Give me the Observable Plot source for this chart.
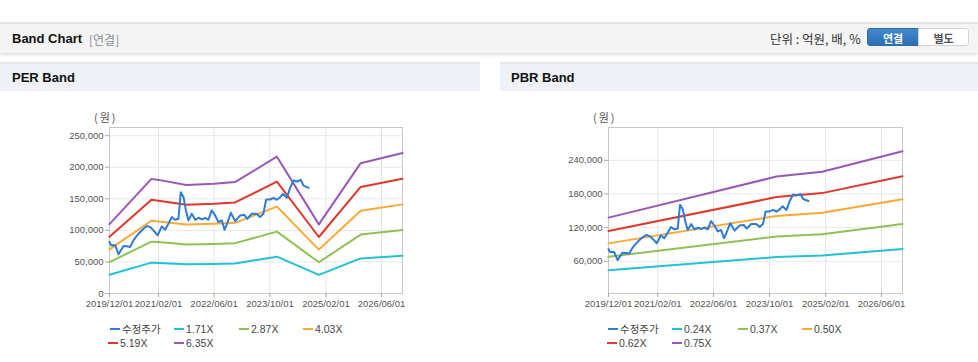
<!DOCTYPE html>
<html><head><meta charset="utf-8">
<script src="https://cdn.jsdelivr.net/npm/d3@7"></script>
<script src="https://cdn.jsdelivr.net/npm/@observablehq/plot@0.6"></script>
<style>
html,body{margin:0;padding:0;background:#fff;width:978px;height:362px;overflow:hidden;font-family:"Liberation Sans",Arial,"Noto Sans CJK KR",sans-serif;}
.abs{position:absolute;}
#topbar{left:0;top:22px;width:978px;height:29px;background:#f4f4f4;border-top:2px solid #e6e6e6;box-shadow:0 2px 3px rgba(0,0,0,0.13);}
.ttl{font-weight:bold;font-size:13px;color:#111;white-space:nowrap;}
.sub{font-size:12px;color:#8a8f99;font-family:"Noto Sans CJK KR",sans-serif;}
.unit{font-size:12.5px;color:#333;font-family:"Noto Sans CJK KR",sans-serif;white-space:nowrap;}
.btn{height:18px;line-height:18px;text-align:center;font-size:11px;font-weight:bold;font-family:"Noto Sans CJK KR",sans-serif;box-sizing:border-box;}
.phead{top:62px;height:29px;background:#eef2f7;border-top:2px solid #e2e6eb;box-sizing:border-box;}
.leg{font-size:10.5px;color:#444;white-space:nowrap;line-height:12px;}
.sw{height:2px;width:10px;}
.won{font-size:11px;color:#555;font-family:"Noto Sans CJK KR",sans-serif;letter-spacing:2px;}
</style></head>
<body>
<div id="root"></div>
<script>
// ---- data ----
const seriesNamesPER = ["수정주가","1.71X","2.87X","4.03X","5.19X","6.35X"];
const seriesNamesPBR = ["수정주가","0.24X","0.37X","0.50X","0.62X","0.75X"];
const seriesColors = ["#2f7bd6","#22c1d3","#8fc155","#fba933","#e0372b","#9b57b5"];
const xTickLabels = ["2019-12-01","2021-02-01","2022-06-01","2023-10-01","2025-02-01","2026-06-01"];
const perYTicks = [0,50000,100000,150000,200000,250000];
const pbrYTicks = [60000,120000,180000,240000];

const priceDates = ["2019-12-01","2019-12-15","2020-01-20","2020-02-18","2020-04-01","2020-05-01","2020-05-29","2020-06-27","2020-08-10","2020-09-23","2020-10-22","2020-11-20","2020-12-19","2021-01-24","2021-03-01","2021-03-30","2021-04-28","2021-05-27","2021-06-26","2021-07-25","2021-08-14","2021-09-07","2021-09-28","2021-10-20","2021-11-19","2021-12-18","2022-01-16","2022-02-15","2022-03-14","2022-04-12","2022-05-11","2022-06-10","2022-07-08","2022-08-07","2022-08-31","2022-09-20","2022-10-25","2022-12-02","2023-01-15","2023-02-19","2023-03-18","2023-04-25","2023-06-08","2023-07-07","2023-08-05","2023-08-29","2023-10-03","2023-11-02","2023-11-30","2023-12-30","2024-01-22","2024-02-26","2024-03-25","2024-04-24","2024-05-23","2024-06-27","2024-07-20","2024-09-03"];
const priceValues = [81600,76300,76300,62100,75300,74700,73700,84200,94700,102600,106800,105300,100000,92100,106300,101000,110500,121000,116800,118400,160500,152600,131600,115800,126300,116800,120000,117400,120000,116800,131600,123700,113200,115800,101000,109500,127900,114700,123700,124700,118400,126300,126300,121000,126300,148900,148900,151600,148400,152600,157900,151600,167400,178900,177400,180000,171000,167400];

const perBandDates = ["2019-12-01","2020-12-01","2021-02-01","2021-10-01","2022-06-01","2022-12-01","2023-12-01","2024-12-01","2025-12-01","2026-12-01"];
const per171 = [29600,48900,48500,46300,46900,47500,58400,29500,55600,59900];
const per287 = [49700,82100,81400,77700,78600,79800,98000,49500,93300,100600];
const per403 = [69800,115200,114200,109200,110400,112000,137600,69500,131100,141200];
const per519 = [89900,148400,147100,140600,142200,144300,177200,89500,168800,181900];
const per635 = [110000,181600,180000,172000,174000,176500,216800,109500,206500,222500];

const pbrBandDates = ["2019-12-01","2023-12-01","2025-01-01","2026-12-01"];
const pbr024 = [44100,67500,70200,81900];
const pbr037 = [68000,104100,108300,126300];
const pbr050 = [91900,140700,146300,170700];
const pbr062 = [113900,174400,181500,211600];
const pbr075 = [137800,211000,219500,256000];

const xDomain = ["2019-12-01","2026-12-01"];
const perYDomain = [0,263000];
const pbrYDomain = [2500,298500];

// ---- build ----
const D = s => new Date(s + "T00:00:00Z");
function rows(dates, vals, name){ return dates.map((d,i)=>({date:D(d), value:vals[i], series:name})); }

function makeChart(names, bandDates, bands, yDomain, yTicks, width, ml, mr){
  const data = [];
  bands.forEach((b,i)=> data.push(...rows(bandDates, b, names[i+1])));
  const price = rows(priceDates, priceValues, names[0]);
  const xt = xTickLabels.map(D);
  return Plot.plot({
    width, height:215, marginLeft:ml, marginRight:mr, marginTop:27, marginBottom:22,
    style:{fontFamily:"'Liberation Sans',Arial,sans-serif", fontSize:"9.5px", color:"#555", background:"transparent", overflow:"visible"},
    x:{type:"utc", domain:xDomain.map(D)},
    y:{domain:yDomain},
    color:{domain:names, range:seriesColors},
    marks:[
      Plot.gridX(xt, {stroke:"#e3e3e3", strokeOpacity:1}),
      Plot.gridY(yTicks, {stroke:"#e8e8e8", strokeOpacity:1}),
      Plot.frame({stroke:"#c8c8c8"}),
      Plot.axisX(xt, {tickFormat:d3.utcFormat("%Y/%m/%d"), tickSize:4, tickPadding:3, stroke:"#aaa", label:null, fill:"#555"}),
      Plot.axisY(yTicks, {tickFormat:d3.format(","), tickSize:4, tickPadding:2, stroke:"#aaa", label:null, fill:"#555"}),
      Plot.line(data, {x:"date", y:"value", z:"series", stroke:"series", strokeWidth:2, strokeLinejoin:"round"}),
      Plot.line(price, {x:"date", y:"value", stroke:"series", strokeWidth:2, strokeLinejoin:"round"})
    ]
  });
}

const root = document.getElementById("root");
function el(html){ const t=document.createElement("div"); t.innerHTML=html; return t.firstElementChild; }

root.appendChild(el('<div id="topbar" class="abs"></div>'));
root.appendChild(el('<div class="abs ttl" style="left:12px;top:31px;">Band Chart</div>'));
root.appendChild(el('<div class="abs sub" style="left:89px;top:31px;">[연결]</div>'));
root.appendChild(el('<div class="abs unit" style="left:770px;top:29px;">단위 : 억원, 배, %</div>'));
root.appendChild(el('<div class="abs btn" style="left:867px;top:28px;width:52px;background:linear-gradient(#4088cc,#2c6fb3);color:#fff;border-radius:3px 0 0 3px;border:1px solid #2c6aa8;">연결</div>'));
root.appendChild(el('<div class="abs btn" style="left:918px;top:28px;width:51px;background:#fff;color:#555;border:1px solid #d4d4d4;border-radius:0 3px 3px 0;">별도</div>'));

root.appendChild(el('<div class="abs phead" style="left:0;width:480px;"></div>'));
root.appendChild(el('<div class="abs phead" style="left:500px;width:478px;"></div>'));
root.appendChild(el('<div class="abs ttl" style="left:12px;top:70px;">PER Band</div>'));
root.appendChild(el('<div class="abs ttl" style="left:511px;top:70px;">PBR Band</div>'));

root.appendChild(el('<div class="abs won" style="left:94px;top:109px;">(원)</div>'));
root.appendChild(el('<div class="abs won" style="left:593px;top:109px;">(원)</div>'));

const per = makeChart(seriesNamesPER, perBandDates, [per171,per287,per403,per519,per635], perYDomain, perYTicks, 480, 109, 78);
per.style.position="absolute"; per.style.left="0px"; per.style.top="100px";
root.appendChild(per);
const pbr = makeChart(seriesNamesPBR, pbrBandDates, [pbr024,pbr037,pbr050,pbr062,pbr075], pbrYDomain, pbrYTicks, 478, 108, 76);
pbr.style.position="absolute"; pbr.style.left="500px"; pbr.style.top="100px";
root.appendChild(pbr);

function legend(names, textX, rowsY){
  names.forEach((n,i)=>{
    const x = textX[i], y = rowsY[i];
    root.appendChild(el(`<div class="abs sw" style="left:${x-12}px;top:${y-1}px;background:${seriesColors[i]}"></div>`));
    const fam = i===0 ? 'font-family:"Noto Sans CJK KR",sans-serif;font-size:11px;' : '';
    root.appendChild(el(`<div class="abs leg" style="left:${x}px;top:${y-6}px;${fam}">${n}</div>`));
  });
}
legend(seriesNamesPER, [122,186,251,315,120,186], [329,329,329,329,343,343]);
legend(seriesNamesPBR, [620,684,750,814,619,684], [329,329,329,329,343,343]);
</script>
</body></html>
